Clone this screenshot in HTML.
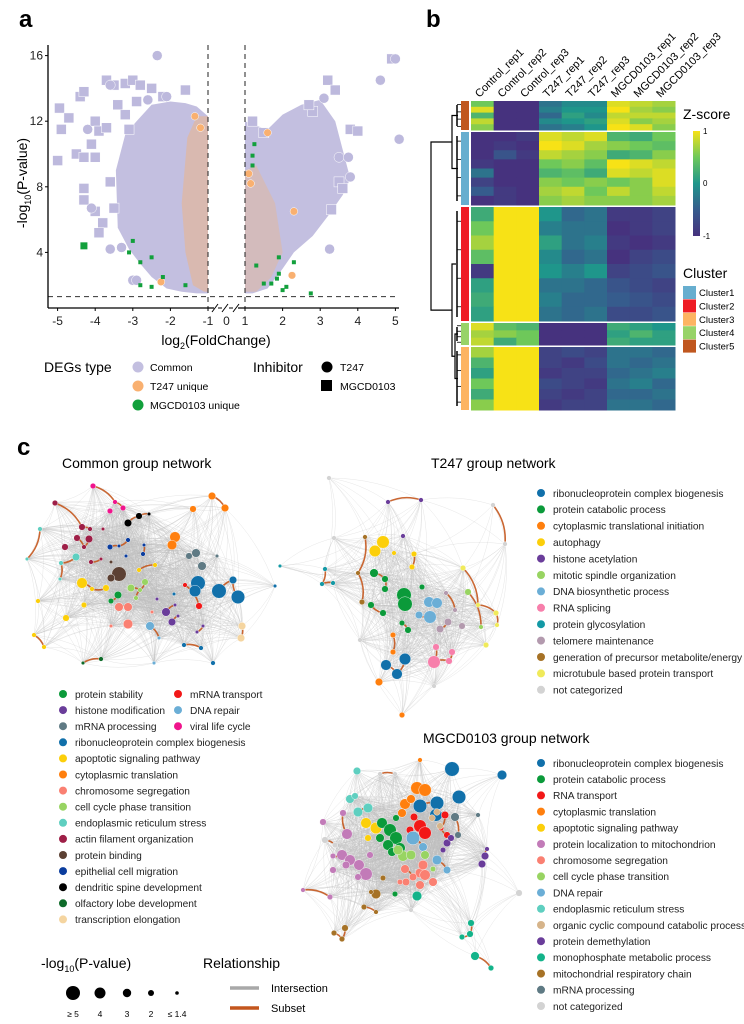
<!DOCTYPE html>
<html><head><meta charset="utf-8"><style>
html,body{margin:0;padding:0;background:#fff}
svg{display:block;font-family:"Liberation Sans",Arial,sans-serif}
</style></head><body>
<svg id="fig" width="744" height="1024" viewBox="0 0 744 1024" xmlns="http://www.w3.org/2000/svg">
<text x="19" y="27" font-size="24" font-weight="bold">a</text>
<text x="426" y="27" font-size="24" font-weight="bold">b</text>
<text x="17" y="455" font-size="24" font-weight="bold">c</text>
<g id="volcano"></g>
<g id="heat"></g>
<g id="net"></g>
</svg>
<script>
const NS='http://www.w3.org/2000/svg';
function el(tag,attrs,parent,txt){const e=document.createElementNS(NS,tag);for(const k in attrs)e.setAttribute(k,attrs[k]);if(txt!==undefined)e.textContent=txt;parent.appendChild(e);return e;}

/* ---------- Panel a: volcano data ---------- */
const xTicks=[-5,-4,-3,-2,-1,0,1,2,3,4,5];
const yTicks=[4,8,12,16];
const pThreshold=1.3;
const leftCloudX=[-1,-1.3,-1.6,-2,-2.5,-2.9,-3.2,-3.45,-3.4,-3.1,-2.8,-2.5,-2.1,-1.7,-1.3,-1];
const leftCloudY=[12.3,12.9,13.1,13.2,13,12,11.2,9,5.5,4.2,3.3,2.5,1.8,1.6,1.5,1.5];
const rightCloudX=[1,1.2,1.6,2,2.5,3,3.4,3.8,3.6,3.2,2.8,2.3,2,1.6,1.2,1];
const rightCloudY=[12,11.8,11.5,12.4,13,13.3,12,8.5,7.5,6.2,5,4,3,1.8,1.5,1.5];
const leftOrangeX=[-1,-1.3,-1.55,-1.7,-1.6,-1.4,-1.1,-1];
const leftOrangeY=[12.3,12.3,11,7,4,2,1.6,1.6];
const rightOrangeX=[1,1.3,1.8,2,1.7,1.3,1];
const rightOrangeY=[9,9.3,7,4,2.5,1.6,1.6];
const commonSqX=[-4.95,-4.7,-4.9,-4.4,-4.3,-4.5,-4.3,-5,-3.7,-3.5,-3.2,-3,-2.8,-4,-3.9,-4.1,-4,-4.3,-4.3,-4,-3.8,-3.9,-3.5,-3.6,-3.7,-3.2,-2.9,-3.4,-3.1,-2.5,-2.2,-1.6,3.2,3.4,2.8,3.8,4,3.5,3.6,3.3,2.7,4.9,1.2,1.5];
const commonSqY=[12.8,12.2,11.5,13.5,13.8,10,9.8,9.6,14.5,14.2,14.3,14.5,14.2,12,11.4,10.6,9.8,7.9,7.2,6.5,5.8,5.2,6.7,8.3,11.6,12.4,13.2,13,11.5,14,13.5,13.9,14.5,13.9,12.6,11.5,11.4,8.3,7.9,6.6,13,15.8,12,11.3];
const commonCirX=[-2.35,-3.6,-4.2,-4.1,-3.6,-3.3,-2.6,-2.1,4.6,5,5.1,3.25,3.1,3.8,3.5,3.75,-3,-2.9];
const commonCirY=[16,14.2,11.5,6.7,4.2,4.3,13.3,13.5,14.5,15.8,10.9,4.2,13.4,8.6,9.8,9.8,2.3,2.3];
const t247CirX=[1.6,2.3,2.25,-1.35,-1.2,-2.25,1.1,1.15];
const t247CirY=[11.3,6.5,2.6,12.3,11.6,2.2,8.8,8.2];
const mgcdSqX=[-4.3,-3.1,-2.8,-2.5,-2.8,-2.5,-3,-2.2,1.25,1.2,1.2,1.9,2.3,1.9,1.85,2.1,2.75,1.5,1.7,2,1.3,-1.6];
const mgcdSqY=[4.4,4,3.4,3.7,2,1.9,4.7,2.5,10.6,9.9,9.3,3.7,3.4,2.7,2.4,1.9,1.5,2.1,2.1,1.7,3.2,2];

(function(){
 const g=document.getElementById('volcano');
 const L=48,R=399,T=45,B=308;
 const xs=v=>v<=0?208+(v+1)*37.6:245+(v-1)*37.6;
 const xsTick=v=>v===0?226.5:xs(v);
 const ys=v=>318-16.4*v;
 const poly=(X,Y,fill,op,name)=>{const p=el('polygon',{points:X.map((x,i)=>xs(x)+','+ys(Y[i])).join(' '),fill:fill,opacity:op},g);
  };
 poly(leftCloudX,leftCloudY,'#c3bfe0',1,'common-cloud-left');
 poly(rightCloudX,rightCloudY,'#c3bfe0',1,'common-cloud-right');
 poly(leftOrangeX,leftOrangeY,'#f9b26a',0.4,'t247-band-left');
 poly(rightOrangeX,rightOrangeY,'#f9b26a',0.3,'t247-band-right');
 commonSqX.forEach((x,i)=>{const r=el('rect',{x:xs(x)-5,y:ys(commonSqY[i])-5,width:10,height:10,fill:'#bdb9dd',stroke:'#fff','stroke-width':0.5},g);
  });
 commonCirX.forEach((x,i)=>{const c=el('circle',{cx:xs(x),cy:ys(commonCirY[i]),r:5,fill:'#bdb9dd',stroke:'#fff','stroke-width':0.5},g);
  });
 t247CirX.forEach((x,i)=>{const c=el('circle',{cx:xs(x),cy:ys(t247CirY[i]),r:3.8,fill:'#f9b070',stroke:'#fff','stroke-width':0.5},g);
  });
 mgcdSqX.forEach((x,i)=>{const s=i===0?7:4;const r=el('rect',{x:xs(x)-s/2,y:ys(mgcdSqY[i])-s/2,width:s,height:s,fill:'#12a03c'},g);
  });
 [-1,1].forEach(v=>{const d=el('line',{x1:xs(v),x2:xs(v),y1:T,y2:B,stroke:'#222','stroke-dasharray':'5,4','stroke-width':1},g);
  });
 const h=el('line',{x1:L,x2:R,y1:ys(pThreshold),y2:ys(pThreshold),stroke:'#333','stroke-dasharray':'5,4','stroke-width':1},g);
 
 const ya=el('line',{x1:L,x2:L,y1:T,y2:B,stroke:'#000','stroke-width':1.3},g);
 
 const xa=el('path',{d:`M${L} ${B}H214 M238 ${B}H${R}`,stroke:'#000','stroke-width':1.3,fill:'none'},g);
 
 const br=el('path',{d:`M212 312L218 304M218 ${B}H222M222 312L228 304M229 ${B}H233M233 312L239 304`,stroke:'#000','stroke-width':1,fill:'none'},g);
 
 xTicks.forEach(v=>{const x=xsTick(v);if(v!==0)el('line',{x1:x,x2:x,y1:B,y2:B+3,stroke:'#000'},g);
  const t=el('text',{x:x,y:B+17,'font-size':12,'text-anchor':'middle',fill:'#222'},g,String(v));
  });
 yTicks.forEach(v=>{el('line',{x1:L-3,x2:L,y1:ys(v),y2:ys(v),stroke:'#000'},g);
  const t=el('text',{x:L-5,y:ys(v)+4,'font-size':12,'text-anchor':'end',fill:'#222'},g,String(v));
  });
 const xt=el('text',{x:216,y:345,'font-size':14,'text-anchor':'middle'},g);
 
 xt.innerHTML='log<tspan font-size="9" dy="4">2</tspan><tspan dy="-4">(FoldChange)</tspan>';
 const yt=el('text',{x:0,y:0,'font-size':14,'text-anchor':'middle',transform:'translate(27,183) rotate(-90)'},g);
 
 yt.innerHTML='-log<tspan font-size="9" dy="4">10</tspan><tspan dy="-4">(P-value)</tspan>';
 const lg=el('g',{},g);
 el('text',{x:44,y:372,'font-size':14},lg,'DEGs type');
 [['#c3bfe0','Common'],['#f9b070','T247 unique'],['#12a03c','MGCD0103 unique']].forEach((d,i)=>{
  const c=el('circle',{cx:138,cy:367+i*19,r:5.5,fill:d[0]},lg);
  const t=el('text',{x:150,y:371+i*19,'font-size':10.5},lg,d[1]);});
 el('text',{x:253,y:372,'font-size':14},lg,'Inhibitor');
 el('circle',{cx:327,cy:367,r:5.5,fill:'#000'},lg);
 el('text',{x:340,y:371,'font-size':10.5},lg,'T247');
 el('rect',{x:321,y:380,width:11,height:11,fill:'#000'},lg);
 el('text',{x:340,y:390,'font-size':10.5},lg,'MGCD0103');
})();

/* ---------- Panel b: heatmap data ---------- */
const sampleLabels=['Control_rep1','Control_rep2','Control_rep3','T247_rep1','T247_rep2','T247_rep3','MGCD0103_rep1','MGCD0103_rep2','MGCD0103_rep3'];
const clusterOrder=['Cluster5','Cluster1','Cluster2','Cluster4','Cluster3'];
const clusterSizes=[29,73,114,22,63];
const zRowsC5=[[0.5,-1,-1,-0.3,-0.1,-0.1,0.9,0.8,0.7],[0.9,-1,-1,-0.2,0,0,1,0.7,0.6],[0.3,-1,-1,-0.4,0.1,-0.1,0.8,0.8,0.8],[0.8,-1,-1,-0.1,0,0.1,0.9,0.6,0.7],[0.6,-1,-1,-0.3,-0.2,0,1,0.9,0.6]];
const zRowsC1=[[-1,-1,-0.9,0.9,0.8,0.9,0.3,0.2,0.5],[-1,-0.9,-1,1,0.9,0.7,0.6,0.5,0.4],[-1,-0.6,-0.9,0.8,0.7,0.6,0.2,0.3,0.6],[-0.9,-1,-1,0.5,0.6,0.4,1,0.9,0.8],[-0.3,-1,-1,0.3,0.4,0.2,0.9,0.8,0.9],[-0.8,-1,-1,0.6,0.5,0.6,0.5,0.6,0.9],[-0.5,-0.9,-1,0.7,0.8,0.5,0.8,0.6,0.8],[-1,-0.9,-1,0.6,0.7,0.6,0.6,0.6,0.7]];
const zRowsC2=[[0.2,1,1,0,-0.4,-0.3,-0.9,-0.9,-0.8],[0.5,1,1,-0.2,-0.3,-0.3,-1,-0.9,-0.8],[0.7,1,1,0.1,-0.3,-0.2,-0.9,-1,-0.9],[0.4,1,1,-0.1,-0.4,-0.3,-1,-0.8,-0.7],[-0.9,1,1,0,-0.2,0,-0.8,-0.7,-0.6],[0.1,1,1,-0.3,-0.3,-0.4,-0.6,-0.7,-0.8],[0.2,1,1,-0.2,-0.4,-0.4,-0.5,-0.6,-0.7],[0.1,1,1,-0.3,-0.4,-0.3,-0.7,-0.7,-0.6]];
const zRowsC4=[[0.9,0.4,0.3,-1,-1,-1,0.2,0.1,0],[0.7,0.6,0.5,-1,-1,-1,0.1,0.3,0.1],[0.8,0.2,0.5,-1,-1,-1,0.2,0.1,0.1]];
const zRowsC3=[[0.7,1,1,-0.8,-0.7,-0.8,-0.3,-0.3,-0.4],[0.3,1,1,-0.8,-0.9,-0.7,-0.3,-0.4,-0.3],[0.1,1,1,-0.9,-0.8,-0.8,-0.4,-0.3,-0.2],[0.5,1,1,-0.7,-0.8,-0.9,-0.3,-0.2,-0.4],[0.2,1,1,-0.8,-0.9,-0.8,-0.4,-0.4,-0.3],[0.6,1,1,-0.9,-0.8,-0.8,-0.3,-0.3,-0.4]];
const clusterColors={Cluster1:'#67aecf',Cluster2:'#ee1c25',Cluster3:'#fdb462',Cluster4:'#98d368',Cluster5:'#c0571f'};

(function(){
 const g=document.getElementById('heat');
 const X0=471,X1=675,Y0=101,Y1=410,gap=2;
 const stops=[[-1,[70,50,126]],[-0.5,[54,92,141]],[0,[31,150,139]],[0.5,[110,200,90]],[1,[247,226,22]]];
 const col=v=>{v=Math.max(-1,Math.min(1,v));for(let i=0;i<stops.length-1;i++){const a=stops[i],b=stops[i+1];if(v<=b[0]){const t=(v-a[0])/(b[0]-a[0]);return 'rgb('+a[1].map((c,j)=>Math.round(c+(b[1][j]-c)*t)).join(',')+')';}}};
 const rows=[zRowsC5,zRowsC1,zRowsC2,zRowsC4,zRowsC3];
 const total=clusterSizes.reduce((a,b)=>a+b,0);
 const avail=(Y1-Y0)-gap*(clusterSizes.length-1);
 const cw=(X1-X0)/sampleLabels.length;
 let y=Y0;const bounds=[];
 clusterOrder.forEach((cn,ci)=>{
  const h=avail*clusterSizes[ci]/total;const R=rows[ci];const rh=h/R.length;
  const cg=el('g',{},g);
  R.forEach((row,ri)=>row.forEach((v,j)=>{const r=el('rect',{x:X0+j*cw,y:y+ri*rh,width:cw+0.5,height:rh+0.5,fill:col(v)},cg);
   }));
  const a=el('rect',{x:461,y:y,width:8,height:h,fill:clusterColors[cn]},g);
  
  bounds.push([y,y+h]);y+=h+gap;
 });
 const mid=b=>(b[0]+b[1])/2;
 const dg=el('g',{fill:'none',stroke:'#000','stroke-width':1.2},g);
 
 const m5=mid(bounds[0]),m1=mid(bounds[1]),m2=mid(bounds[2]),m4=mid(bounds[3]),m3=mid(bounds[4]);
 const top=(m5+m1)/2,m43=(m4+m3)/2,bot=(m2+m43)/2;
 el('path',{d:`M452 ${top}H431V${bot}H452`},dg);
 el('path',{d:`M458 ${m5}H452V${m1}H458`},dg);
 el('path',{d:`M456 ${m2}H452V${m43}H455`},dg);
 el('path',{d:`M458 ${m4}H455V${m3}H458`},dg);
 bounds.forEach(b=>{for(let k=0;k<4;k++){const yy=b[0]+(b[1]-b[0])*(k+0.5)/4;el('path',{d:`M461 ${yy}H457`,'stroke-width':0.8},dg);}
  el('path',{d:`M457 ${b[0]+4}V${b[1]-4}`,'stroke-width':1.5},dg);});
 sampleLabels.forEach((s,j)=>{const x=X0+(j+0.5)*cw-3;const t=el('text',{x:0,y:0,'font-size':11,transform:`translate(${x},98) rotate(-45)`},g,s);
  });
 const zl=el('g',{},g);
 el('text',{x:683,y:119,'font-size':14},zl,'Z-score');
 const gr=el('linearGradient',{id:'zg',x1:0,y1:1,x2:0,y2:0},el('defs',{},g));
 stops.forEach(s=>el('stop',{offset:((s[0]+1)/2*100)+'%','stop-color':col(s[0])},gr));
 el('rect',{x:693,y:131,width:7,height:105,fill:'url(#zg)'},zl);
 [['1',134],['0',186],['-1',239]].forEach(d=>el('text',{x:703,y:d[1],'font-size':8},zl,d[0]));
 const cl=el('g',{},g);
 el('text',{x:683,y:278,'font-size':14},cl,'Cluster');
 ['Cluster1','Cluster2','Cluster3','Cluster4','Cluster5'].forEach((c,i)=>{
  const r=el('rect',{x:683,y:286+i*13.4,width:13,height:13,fill:clusterColors[c]},cl);
  const t=el('text',{x:699,y:296+i*13.4,'font-size':9.5},cl,c);});
})();

/* ---------- Panel c: networks ---------- */
const catColor={ps:'#0b9a3a',hm:'#6a3d9a',mp:'#5f7a84',rb:'#1170aa',ap:'#fccf0a',ct:'#ff7f0e',cs:'#fa8072',cc:'#98d462',er:'#5fcfc0',af:'#9e1f47',pb:'#5c4033',ep:'#0b3d9e',dd:'#000000',ol:'#0f6b2a',te:'#f5d5a0',mt:'#f21818',dr:'#6baed6',vl:'#f0148c',
 pc:'#0b9a3a',ci:'#ff7f0e',au:'#fccf0a',ha:'#6a3d9a',ms:'#98d462',db:'#6baed6',rs:'#f77fab',pg:'#1399a5',tm:'#b39aae',ge:'#a67226',mb:'#f0ea5a',nc:'#d3d3d3',
 rt:'#f21818',pl:'#c27bb8',oc:'#d6b48a',pd:'#6a3d9a',mm:'#13b38a',mr:'#a67226'};
const commonNodes=[[93,486,2.5,'vl'],[115,502,2,'vl'],[110,511,2.5,'vl'],[123,508,2.5,'vl'],[55,503,2.5,'af'],[128,523,3.5,'dd'],[139,516,3,'dd'],[149,514,1.5,'dd'],[212,496,3.5,'ct'],[225,508,3.5,'ct'],[193,509,3,'ct'],[175,537,5,'ct'],[172,545,4.5,'ct'],[40,529,2,'er'],[27,559,1.5,'er'],[76,557,3.5,'er'],[82,527,3,'af'],[90,529,2,'af'],[103,529,1.5,'af'],[77,538,3,'af'],[89,539,3.5,'af'],[65,547,3,'af'],[84,547,2,'af'],[101,559,1.5,'af'],[91,562,2,'af'],[128,540,2,'ep'],[110,547,2.5,'ep'],[119,546,1.5,'ep'],[144,545,1.5,'ep'],[126,556,1.5,'ep'],[143,554,2,'ep'],[189,556,3,'mp'],[196,553,4,'mp'],[202,566,4,'mp'],[217,556,1.5,'mp'],[119,574,7,'pb'],[111,578,3.5,'pb'],[111,562,1.5,'pb'],[82,583,5,'ap'],[139,570,2,'ap'],[155,565,2,'ap'],[198,583,7,'rb'],[219,591,7,'rb'],[238,597,6.5,'rb'],[233,580,3.5,'rb'],[195,591,5.5,'rb'],[61,563,2,'er'],[60,579,1.5,'er'],[185,585,2,'mt'],[199,606,3,'mt'],[131,588,3.5,'cc'],[145,582,3,'cc'],[136,598,2,'cc'],[140,590,2,'cc'],[106,588,3,'ap'],[92,589,2,'ap'],[84,605,2.5,'ap'],[66,618,3,'ap'],[38,601,2,'ap'],[34,635,2,'ap'],[44,647,2,'ap'],[118,595,3.5,'ps'],[111,601,2.5,'ps'],[119,607,4,'cs'],[128,607,4,'cs'],[128,624,4.5,'cs'],[111,626,1.5,'cs'],[152,612,1.5,'cs'],[150,626,4,'dr'],[159,638,1.5,'dr'],[154,663,1.5,'dr'],[166,612,4,'hm'],[172,622,3.5,'hm'],[157,599,1.5,'hm'],[175,605,1.5,'hm'],[178,616,1.5,'hm'],[203,626,1.5,'hm'],[197,632,1.5,'hm'],[184,645,2,'rb'],[201,648,2,'rb'],[174,594,1.5,'rb'],[213,663,2,'rb'],[275,586,1.5,'rb'],[242,626,3.5,'te'],[241,638,3.5,'te'],[83,663,1.5,'ol'],[101,659,2,'ol']];
const t247Nodes=[[329,478,2,'nc'],[388,502,2,'ha'],[421,500,2,'ha'],[493,505,2,'nc'],[365,537,2,'ge'],[383,542,6,'au'],[375,551,5.5,'au'],[403,536,2,'ha'],[394,553,2,'au'],[414,554,2.5,'au'],[412,567,2.5,'au'],[358,573,2,'ge'],[505,544,2,'nc'],[463,568,2.5,'mb'],[374,573,4,'pc'],[385,579,3,'pc'],[280,566,1.5,'pg'],[325,569,2,'pg'],[322,584,2,'pg'],[334,538,2,'nc'],[404,595,7,'pc'],[405,604,7,'pc'],[385,589,3,'pc'],[383,613,3,'pc'],[371,605,3,'pc'],[402,623,2.5,'pc'],[408,630,3,'pc'],[422,587,2.5,'pc'],[429,602,5,'db'],[437,603,5,'db'],[430,617,6,'db'],[419,615,3.5,'db'],[448,622,3.5,'tm'],[440,629,3.5,'tm'],[462,626,3,'tm'],[446,593,2,'tm'],[455,610,2,'tm'],[436,647,3,'rs'],[452,652,3,'rs'],[434,662,6,'rs'],[449,661,3,'rs'],[405,659,5.5,'rb'],[386,665,5,'rb'],[397,674,5,'rb'],[393,635,2.5,'ci'],[393,652,2.5,'ci'],[379,682,3.5,'ci'],[402,715,2.5,'ci'],[468,592,3,'ms'],[478,605,2,'mb'],[496,613,2.5,'mb'],[497,625,2,'mb'],[486,645,2.5,'mb'],[481,627,2,'ms'],[362,602,2.5,'ge'],[360,640,2,'nc'],[434,686,2,'nc'],[333,583,2,'pg']];
const mgcdNodes=[[417,788,6,'ct'],[425,790,6,'ct'],[420,806,6.5,'rb'],[437,803,6.5,'rb'],[436,815,6,'rb'],[459,797,6.5,'rb'],[405,804,5,'ct'],[402,813,4,'ct'],[411,799,4,'ct'],[350,799,4,'er'],[355,796,3,'er'],[358,812,4.5,'er'],[368,808,4.5,'er'],[366,823,5,'ap'],[376,828,5.5,'ap'],[368,838,3,'ap'],[382,823,5,'pc'],[390,830,6,'pc'],[396,838,6,'pc'],[400,848,5,'pc'],[388,845,5,'pc'],[396,818,3,'pc'],[392,852,4,'pc'],[380,838,4,'pc'],[414,817,3.5,'rt'],[420,826,6,'rt'],[425,833,6,'rt'],[410,830,3.5,'rt'],[445,815,3.5,'rt'],[447,835,3,'rt'],[441,828,2.5,'rt'],[413,838,6.5,'dr'],[423,847,4,'dr'],[437,860,4.5,'dr'],[447,870,3.5,'dr'],[432,818,3,'oc'],[440,826,3,'oc'],[437,812,3,'oc'],[455,817,4,'mp'],[458,835,3,'mp'],[478,815,2,'mp'],[447,843,3.5,'pd'],[451,838,3,'pd'],[485,856,3.5,'pd'],[482,864,3.5,'pd'],[443,850,2.5,'pd'],[487,849,2,'pd'],[403,856,5,'cc'],[411,855,4.5,'cc'],[425,855,4,'cc'],[398,850,4.5,'cc'],[433,869,2.5,'cc'],[405,869,4,'cs'],[420,873,4.5,'cs'],[423,865,4.5,'cs'],[413,877,3.5,'cs'],[425,875,5,'cs'],[433,882,4,'cs'],[406,882,3.5,'cs'],[420,885,4,'cs'],[400,882,2.5,'cs'],[347,834,5,'pl'],[343,813,3,'pl'],[323,822,3,'pl'],[342,855,5,'pl'],[350,860,5,'pl'],[346,865,3.5,'pl'],[359,865,5,'pl'],[366,874,6,'pl'],[370,855,3,'pl'],[333,856,2.5,'pl'],[333,870,3,'pl'],[358,877,3,'pl'],[303,890,2,'pl'],[330,897,2.5,'pl'],[376,894,4.5,'mr'],[371,892,2,'mr'],[383,878,2.5,'mr'],[364,907,2.5,'mr'],[376,912,2,'mr'],[334,933,2.5,'mr'],[345,928,3,'mr'],[342,939,2.5,'mr'],[395,894,2.5,'pc'],[417,896,4.5,'mm'],[471,923,3,'mm'],[470,934,3,'mm'],[462,937,2.5,'mm'],[475,956,4,'mm'],[491,968,2.5,'mm'],[519,893,3,'nc'],[411,910,2,'nc'],[420,760,2,'ct'],[452,769,7,'rb'],[502,775,4.5,'rb'],[357,771,3.5,'er'],[380,774,2,'nc'],[395,774,2,'nc'],[325,840,3,'nc'],[335,845,2.5,'nc']];

(function(){
 const g=document.getElementById('net');
 function drawNet(nodes,name,thr){
  const ng=el('g',{},g);
  let d='';
  for(let i=0;i<nodes.length;i++)for(let j=i+1;j<nodes.length;j++){const a=nodes[i],b=nodes[j];const dist=Math.hypot(a[0]-b[0],a[1]-b[1]);
   if(dist<thr){const mx=(a[0]+b[0])/2+(b[1]-a[1])*0.12,my=(a[1]+b[1])/2-(b[0]-a[0])*0.12;d+=`M${a[0]} ${a[1]}Q${mx.toFixed(1)} ${my.toFixed(1)} ${b[0]} ${b[1]}`;}}
  const mesh=el('path',{d:d,fill:'none',stroke:'#bdbdbd','stroke-width':0.35,opacity:0.55},ng);
  
  let o='';
  nodes.forEach((a,i)=>{let best=-1,bd=1e9;nodes.forEach((b,j)=>{if(i!==j&&b[3]===a[3]){const dd=Math.hypot(a[0]-b[0],a[1]-b[1]);if(dd<bd){bd=dd;best=j;}}});
   if(best>i&&bd<45&&bd>6){const b=nodes[best];const mx=(a[0]+b[0])/2+(b[1]-a[1])*0.2,my=(a[1]+b[1])/2-(b[0]-a[0])*0.2;o+=`M${a[0]} ${a[1]}Q${mx.toFixed(1)} ${my.toFixed(1)} ${b[0]} ${b[1]}`;}});
  const sub=el('path',{d:o,fill:'none',stroke:'#c4561d','stroke-width':1.6,opacity:0.9},ng);
  
  nodes.forEach(n=>{const c=el('circle',{cx:n[0],cy:n[1],r:n[2]+0.3,fill:catColor[n[3]],stroke:'#fff','stroke-width':0.4},ng);
   });
 }
 drawNet(commonNodes,'common-network',95);
 drawNet(t247Nodes,'t247-network',95);
 drawNet(mgcdNodes,'mgcd0103-network',80);
 const title=(x,y,t,n)=>{const e=el('text',{x:x,y:y,'font-size':14},g,t);};
 title(62,468,'Common group network','common-network-title');
 title(431,468,'T247 group network','t247-network-title');
 title(423,743,'MGCD0103 group network','mgcd0103-network-title');
 function legend(items,x,y0,dy,name){const lg=el('g',{},g);
  items.forEach((it,i)=>{const c=el('circle',{cx:x,cy:y0+i*dy,r:4,fill:catColor[it[0]]},lg);
   const t=el('text',{x:x+12,y:y0+i*dy+3.8,'font-size':10.2,fill:'#222'},lg,it[1]);});}
 legend([['ps','protein stability'],['hm','histone modification'],['mp','mRNA processing'],['rb','ribonucleoprotein complex biogenesis'],['ap','apoptotic signaling pathway'],['ct','cytoplasmic translation'],['cs','chromosome segregation'],['cc','cell cycle phase transition'],['er','endoplasmic reticulum stress'],['af','actin filament organization'],['pb','protein binding'],['ep','epithelial cell migration'],['dd','dendritic spine development'],['ol','olfactory lobe development'],['te','transcription elongation']],63,694,16.1,'common-legend');
 legend([['mt','mRNA transport'],['dr','DNA repair'],['vl','viral life cycle']],178,694,16.1,'common-legend-col2');
 legend([['rb','ribonucleoprotein complex biogenesis'],['pc','protein catabolic process'],['ci','cytoplasmic translational initiation'],['au','autophagy'],['ha','histone acetylation'],['ms','mitotic spindle organization'],['db','DNA biosynthetic process'],['rs','RNA splicing'],['pg','protein glycosylation'],['tm','telomere maintenance'],['ge','generation of precursor metabolite/energy'],['mb','microtubule based protein transport'],['nc','not categorized']],541,493,16.4,'t247-legend');
 legend([['rb','ribonucleoprotein complex biogenesis'],['pc','protein catabolic process'],['rt','RNA transport'],['ct','cytoplasmic translation'],['ap','apoptotic signaling pathway'],['pl','protein localization to mitochondrion'],['cs','chromosome segregation'],['cc','cell cycle phase transition'],['dr','DNA repair'],['er','endoplasmic reticulum stress'],['oc','organic cyclic compound catabolic process'],['pd','protein demethylation'],['mm','monophosphate metabolic process'],['mr','mitochondrial respiratory chain'],['mp','mRNA processing'],['nc','not categorized']],541,763,16.2,'mgcd0103-legend');
 const sl=el('g',{},g);
 const st=el('text',{x:41,y:968,'font-size':14},sl);st.innerHTML='-log<tspan font-size="9" dy="4">10</tspan><tspan dy="-4">(P-value)</tspan>';
 [['≥ 5',73,7],['4',100,5.5],['3',127,4.2],['2',151,3],['≤ 1.4',177,1.8]].forEach(d=>{el('circle',{cx:d[1],cy:993,r:d[2],fill:'#000'},sl);
  const t=el('text',{x:d[1],y:1017,'font-size':8.5,'text-anchor':'middle'},sl,d[0]);});
 const rl=el('g',{},g);
 el('text',{x:203,y:968,'font-size':14},rl,'Relationship');
 el('line',{x1:230,x2:259,y1:988,y2:988,stroke:'#a8a8a8','stroke-width':3.5},rl);
 el('text',{x:271,y:992,'font-size':11},rl,'Intersection');
 el('line',{x1:230,x2:259,y1:1008,y2:1008,stroke:'#c4561d','stroke-width':3.5},rl);
 el('text',{x:271,y:1012,'font-size':11},rl,'Subset');
})();
</script>
</body></html>
